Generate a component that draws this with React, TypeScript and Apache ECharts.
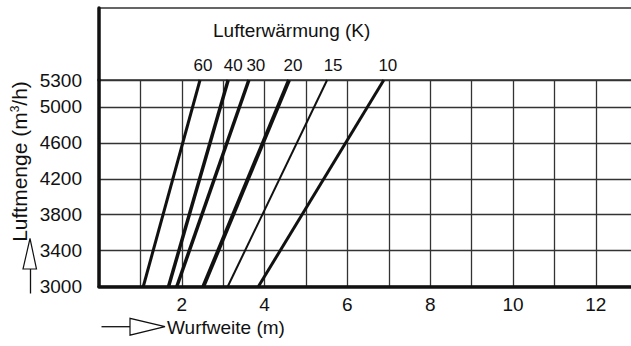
import React, { useEffect, useRef } from "react";
import * as echarts from "echarts";

// Lufterwärmung (K) curves: throw distance (m) at 3000 and 5300 m³/h
const seriesNames = ["60", "40", "30", "20", "15", "10"];
const airflowRange = [3000, 5300];
const throwAtLow = [1.07, 1.68, 1.88, 2.52, 3.11, 3.85];
const throwAtHigh = [2.44, 3.12, 3.62, 4.59, 5.51, 6.88];
const lineWidths = [3, 3.5, 3.5, 4, 2, 3];
const labelShift = [3, 5, 7, 4, 6, 4];
const yTickLabels = [3000, 3400, 3800, 4200, 4600, 5000, 5300];
const xTickLabels = [2, 4, 6, 8, 10, 12];

const FONT = "'Liberation Sans', Arial, sans-serif";
const INK = "#111";
const GRID = "#333";

export default function App() {
  const ref = useRef<HTMLDivElement>(null);
  useEffect(() => {
    if (!ref.current) return;
    const chart = echarts.init(ref.current, undefined, { renderer: "svg" });
    const series = seriesNames.map((name, i) => ({
      name,
      type: "line",
      xAxisIndex: 0,
      yAxisIndex: 0,
      symbol: "circle",
      symbolSize: 0,
      showSymbol: true,
      silent: true,
      lineStyle: { color: INK, width: lineWidths[i] },
      itemStyle: { color: INK },
      data: [
        { value: [throwAtLow[i], airflowRange[0]], label: { show: false } },
        {
          value: [throwAtHigh[i], airflowRange[1]],
          label: {
            show: true,
            position: "top",
            distance: 6,
            offset: [labelShift[i], 0],
            formatter: name,
            color: INK,
            fontSize: 17,
            fontFamily: FONT,
          },
        },
      ],
    }));

    chart.setOption({
      animation: false,
      backgroundColor: "#fff",
      title: {
        text: "Lufterwärmung (K)",
        left: 213,
        top: 21,
        padding: 0,
        textStyle: { fontSize: 19, fontWeight: "normal", color: INK, fontFamily: FONT },
      },
      grid: [
        { left: 99, right: 0, top: 80, height: 206.5, outerBoundsMode: "none" },
        {
          left: 99,
          width: 560,
          top: 8,
          height: 72,
          outerBoundsMode: "none",
          show: true,
          borderColor: GRID,
          borderWidth: 1.5,
          backgroundColor: "transparent",
        },
      ],
      xAxis: [
        {
          type: "value",
          gridIndex: 0,
          min: 0,
          max: 12.85,
          interval: 1,
          axisLine: { show: true, onZero: false, lineStyle: { color: INK, width: 3.5 } },
          axisTick: { show: false },
          axisLabel: {
            color: INK,
            fontSize: 19,
            fontFamily: FONT,
            margin: 8,
            formatter: (v: number) => (xTickLabels.includes(v) ? String(v) : ""),
          },
          splitLine: { show: true, showMaxLine: false, lineStyle: { color: GRID, width: 1.3 } },
        },
        {
          type: "value",
          gridIndex: 1,
          position: "top",
          min: 0,
          max: 1,
          axisLine: { show: false },
          axisTick: { show: false },
          axisLabel: { show: false },
          splitLine: { show: false },
        },
      ],
      yAxis: [
        {
          type: "value",
          gridIndex: 0,
          min: 3000,
          max: 5300,
          interval: 400,
          axisLine: { show: true, onZero: false, lineStyle: { color: INK, width: 3.5 } },
          axisTick: { show: false },
          axisLabel: {
            color: INK,
            fontSize: 19,
            fontFamily: FONT,
            margin: 17,
            padding: [0, 0, 6, 0],
            formatter: (v: number) => (yTickLabels.includes(v) ? String(v) : ""),
          },
          splitLine: { show: true, lineStyle: { color: GRID, width: 1.3 } },
        },
        {
          type: "value",
          gridIndex: 1,
          min: 0,
          max: 1,
          axisLine: { show: true, onZero: false, lineStyle: { color: INK, width: 3.5 } },
          axisTick: { show: false },
          axisLabel: { show: false },
          splitLine: { show: false },
        },
      ],
      graphic: [
        {
          type: "text",
          x: 19,
          y: 161.5,
          rotation: Math.PI / 2,
          style: {
            text: "Luftmenge (m{s|3}/h)",
            fontSize: 21,
            fontFamily: FONT,
            fill: INK,
            align: "center",
            verticalAlign: "middle",
            rich: { s: { fontSize: 12, verticalAlign: "top", fontFamily: FONT, fill: INK } },
          },
        },
        {
          type: "polygon",
          shape: { points: [[30, 238.5], [23, 269], [36.5, 269]] },
          style: { fill: "#fff", stroke: INK, lineWidth: 1.2 },
        },
        {
          type: "line",
          shape: { x1: 30.5, y1: 269, x2: 30.5, y2: 293.5 },
          style: { stroke: INK, lineWidth: 1.3 },
        },
        {
          type: "line",
          shape: { x1: 101.5, y1: 326.7, x2: 130, y2: 326.7 },
          style: { stroke: INK, lineWidth: 1.3 },
        },
        {
          type: "polygon",
          shape: { points: [[130, 318.3], [130, 335.2], [165, 326.7]] },
          style: { fill: "#fff", stroke: INK, lineWidth: 1.2 },
        },
        {
          type: "text",
          x: 167,
          y: 327,
          style: {
            text: "Wurfweite (m)",
            fontSize: 19,
            fontFamily: FONT,
            fill: INK,
            align: "left",
            verticalAlign: "middle",
          },
        },
      ],
      series,
    });
    return () => chart.dispose();
  }, []);
  return (
    <div
      ref={ref}
      style={{ position: "absolute", left: 0, top: 0, width: 631, height: 346 }}
    />
  );
}
